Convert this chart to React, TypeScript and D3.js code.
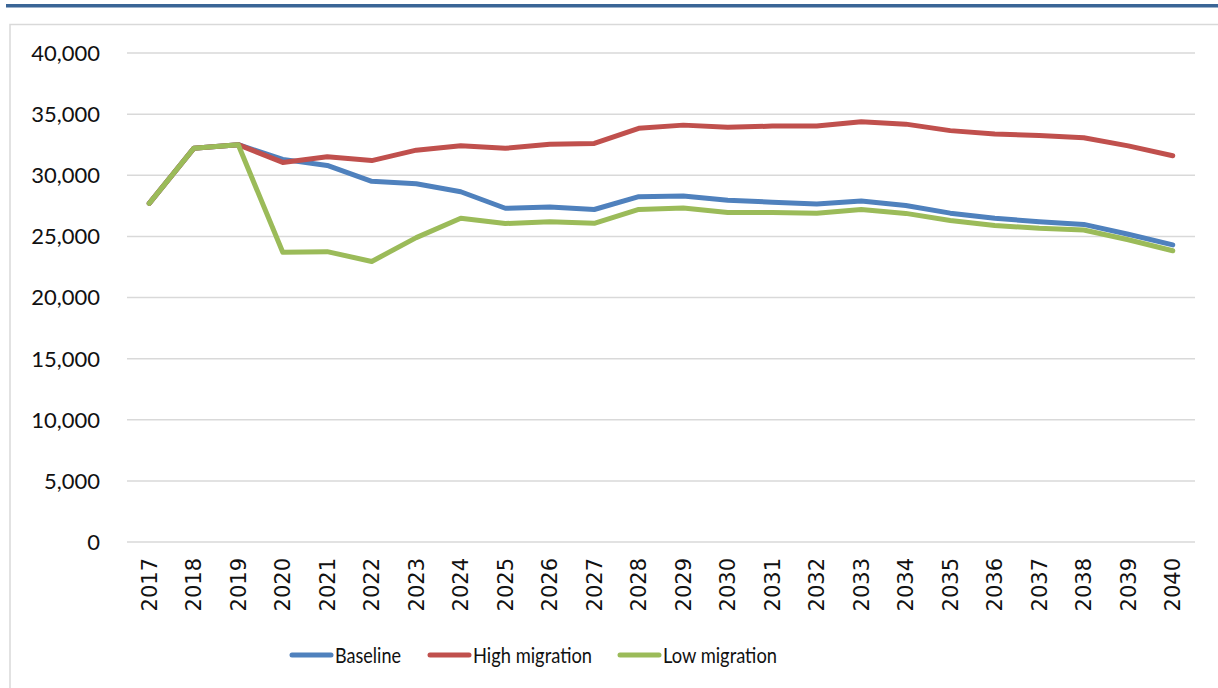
import { useEffect, useRef } from "react";
import * as d3 from "d3";

const years = [
  "2017", "2018", "2019", "2020", "2021", "2022", "2023", "2024", "2025", "2026", "2027", "2028",
  "2029", "2030", "2031", "2032", "2033", "2034", "2035", "2036", "2037", "2038", "2039", "2040",
];

const baseline = [
  27700, 32200, 32500, 31300, 30800, 29500, 29300, 28650, 27300, 27400, 27200, 28250,
  28300, 27950, 27800, 27650, 27900, 27530, 26900, 26480, 26200, 25980, 25170, 24300,
];
const highMigration = [
  27700, 32200, 32500, 31050, 31520, 31200, 32050, 32420, 32200, 32530, 32600, 33840,
  34100, 33920, 34020, 34030, 34380, 34180, 33650, 33370, 33250, 33070, 32400, 31600,
];
const lowMigration = [
  27700, 32200, 32500, 23700, 23750, 22950, 24900, 26480, 26050, 26200, 26070, 27200,
  27320, 26960, 26960, 26890, 27200, 26880, 26300, 25890, 25660, 25520, 24720, 23820,
];

const yTicks = [0, 5000, 10000, 15000, 20000, 25000, 30000, 35000, 40000];

const seriesNames = ["Baseline", "High migration", "Low migration"];
const seriesColors = ["#4F81BD", "#C0504D", "#9BBB59"];

export default function App() {
  const ref = useRef<SVGSVGElement>(null);

  useEffect(() => {
    if (!ref.current) return;
    const svg = d3.select(ref.current);
    svg.selectAll("*").remove();

    const width = 1218;
    const height = 688;
    const font = "Lato, 'Open Sans', sans-serif";

    svg.append("rect").attr("width", width).attr("height", height).attr("fill", "#fff");

    // top rule
    svg.append("rect").attr("x", 6).attr("y", 4).attr("width", width - 6).attr("height", 3.5).attr("fill", "#3A6596");

    // chart frame
    svg
      .append("path")
      .attr("d", `M10,${height + 5}V24.5H${width + 5}`)
      .attr("fill", "none")
      .attr("stroke", "#D9D9D9")
      .attr("stroke-width", 1.5);

    const x = d3.scaleBand().domain(years).range([127, 1195]);
    const y = d3.scaleLinear().domain([0, 40000]).range([542, 53]);

    // gridlines
    svg
      .append("g")
      .selectAll("line")
      .data(yTicks)
      .join("line")
      .attr("x1", 127)
      .attr("x2", 1195)
      .attr("y1", (d) => y(d))
      .attr("y2", (d) => y(d))
      .attr("stroke", "#D9D9D9")
      .attr("stroke-width", 1.5);

    // y labels
    svg
      .append("g")
      .selectAll("text")
      .data(yTicks)
      .join("text")
      .attr("x", 100)
      .attr("y", (d) => y(d))
      .attr("dy", "0.36em")
      .attr("text-anchor", "end")
      .style("font-family", font)
      .style("font-size", "22px")
      .attr("fill", "#111")
      .text((d) => d3.format(",")(d));

    // x labels
    svg
      .append("g")
      .selectAll("text")
      .data(years)
      .join("text")
      .attr("transform", (d) => `translate(${(x(d) || 0) + x.bandwidth() / 2},558) rotate(-90)`)
      .attr("dy", "0.36em")
      .attr("text-anchor", "end")
      .style("font-family", "'DejaVu Sans', sans-serif")
      .style("font-size", "21px")
      .attr("fill", "#111")
      .text((d) => d);

    const line = d3
      .line<number>()
      .x((_, i) => (x(years[i]) || 0) + x.bandwidth() / 2)
      .y((d) => y(d));

    const all = [baseline, highMigration, lowMigration];
    all.forEach((s, i) => {
      svg
        .append("path")
        .datum(s)
        .attr("d", line)
        .attr("fill", "none")
        .attr("stroke", seriesColors[i])
        .attr("stroke-width", 5)
        .attr("stroke-linejoin", "round")
        .attr("stroke-linecap", "round");
    });

    // legend (Calibri is narrower than Lato, so squeeze the labels to the same width)
    const legendX = [292, 430, 620];
    const legendTextW = [66, 119, 114];
    seriesNames.forEach((name, i) => {
      const g = svg.append("g").attr("transform", `translate(${legendX[i]},655)`);
      g.append("line")
        .attr("x1", 0)
        .attr("x2", 39)
        .attr("stroke", seriesColors[i])
        .attr("stroke-width", 5)
        .attr("stroke-linecap", "round");
      g.append("text")
        .attr("x", 43)
        .attr("dy", "0.36em")
        .attr("textLength", legendTextW[i])
        .attr("lengthAdjust", "spacingAndGlyphs")
        .style("font-family", font)
        .style("font-size", "22px")
        .attr("fill", "#111")
        .text(name);
    });
  }, []);

  return (
    <div style={{ position: "fixed", left: 0, top: 0 }}>
      <svg ref={ref} width={1218} height={688} style={{ display: "block" }} />
    </div>
  );
}
